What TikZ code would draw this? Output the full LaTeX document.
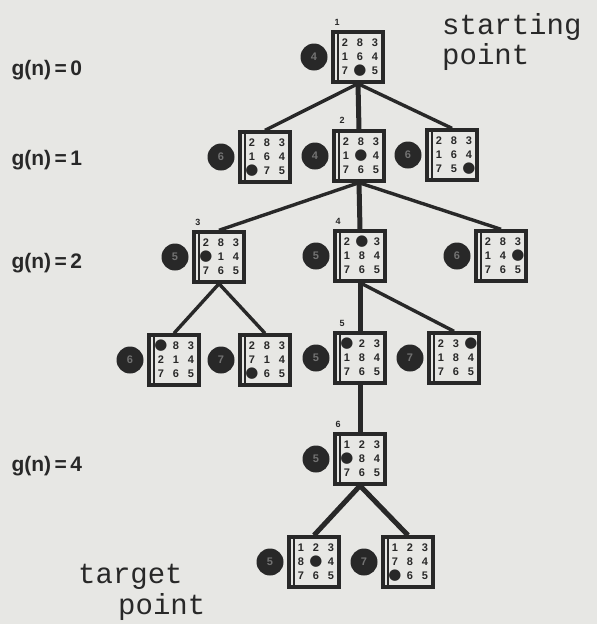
\documentclass[tikz,border=0pt]{standalone}
\usepackage{fontspec}
\setmainfont{Liberation Sans}
\newfontfamily\dv{DejaVu Sans}
\newfontfamily\tw{Liberation Mono}
\definecolor{paper}{RGB}{231,231,228}
\definecolor{ink}{RGB}{40,40,40}
\newcommand\B{{\dv\fontsize{15pt}{15pt}\selectfont ●}}
\tikzset{
  pbox/.style={draw=ink, line width=3.4pt, minimum width=50pt, minimum height=50pt, inner sep=0pt},
  cell/.style={font=\bfseries\fontsize{11pt}{11pt}\selectfont, text=ink, inner sep=0pt},
  hval/.style={circle, fill=ink, minimum size=27pt, inner sep=0pt, text=black!55, font=\bfseries\fontsize{11pt}{11pt}\selectfont},
  edge/.style={draw=ink, line width=3.4pt},
  main/.style={draw=ink, line width=5pt},
  gl/.style={font=\bfseries\fontsize{21pt}{21pt}\selectfont, text=ink, anchor=west},
  nnum/.style={font=\bfseries\fontsize{9pt}{9pt}\selectfont, text=ink, inner sep=0pt},
  tt/.style={font=\tw\fontsize{29pt}{30pt}\selectfont, text=ink, anchor=west, inner sep=0pt}
}
\newcommand\pz[6]{% name, position, row1, row2, row3, f value
  \node[pbox] (#1) at (#2) {};
  \draw[ink, line width=1.8pt] ([xshift=6.5pt,yshift=-2pt]#1.north west) -- ([xshift=6.5pt,yshift=2pt]#1.south west);
  \foreach \t [count=\i] in {#3} \node[cell] at ([shift={(\i*15-28,-14)}]#1.center) {\t};
  \foreach \t [count=\i] in {#4} \node[cell] at ([shift={(\i*15-28,0)}]#1.center) {\t};
  \foreach \t [count=\i] in {#5} \node[cell] at ([shift={(\i*15-28,14)}]#1.center) {\t};
  \node[hval] (#1h) at ([xshift=-44pt]#1.center) {#6};
}
\begin{document}
\begin{tikzpicture}[x=1pt,y=-1pt]
\fill[paper] (0,0) rectangle (597,624);
\useasboundingbox (0,0) rectangle (597,624);

% level labels
\node[gl] (g0) at (8,70) {g(n)\,=\,0};
\node[gl] (g1) at (8,160) {g(n)\,=\,1};
\node[gl] (g2) at (8,263) {g(n)\,=\,2};
\node[gl] (g4) at (8,466) {g(n)\,=\,4};

% texts
\node[tt] (sp1) at (442,27) {starting};
\node[tt] (sp2) at (442,57) {point};
\node[tt] (tp1) at (78,577) {target};
\node[tt] (tp2) at (118,607) {point};

% puzzles
\pz{n1}{358,57}{2,8,3}{1,6,4}{7,\B,5}{4}
\pz{a1}{265,157}{2,8,3}{1,6,4}{\B,7,5}{6}
\pz{n2}{359,156}{2,8,3}{1,\B,4}{7,6,5}{4}
\pz{c1}{452,155}{2,8,3}{1,6,4}{7,5,\B}{6}
\pz{n3}{219,257}{2,8,3}{\B,1,4}{7,6,5}{5}
\pz{n4}{360,256}{2,\B,3}{1,8,4}{7,6,5}{5}
\pz{c2}{501,256}{2,8,3}{1,4,\B}{7,6,5}{6}
\pz{a3}{174,360}{\B,8,3}{2,1,4}{7,6,5}{6}
\pz{b3}{265,360}{2,8,3}{7,1,4}{\B,6,5}{7}
\pz{n5}{360,358}{\B,2,3}{1,8,4}{7,6,5}{5}
\pz{d3}{454,358}{2,3,\B}{1,8,4}{7,6,5}{7}
\pz{n6}{360,459}{1,2,3}{\B,8,4}{7,6,5}{5}
\pz{gl}{314,562}{1,2,3}{8,\B,4}{7,6,5}{5}
\pz{b5}{408,562}{1,2,3}{7,8,4}{\B,6,5}{7}

% node numbers
\node[nnum] (k1) at (337,22) {1};
\node[nnum] (k2) at (342,120) {2};
\node[nnum] (k3) at (198,222) {3};
\node[nnum] (k4) at (338,221) {4};
\node[nnum] (k5) at (342,323) {5};
\node[nnum] (k6) at (338,424) {6};

% connectors
\draw[edge] (n1.south) -- (a1.north);
\draw[main] (n1.south) -- (n2.north);
\draw[edge] (n1.south) -- (c1.north);
\draw[edge] (n2.south) -- (n3.north);
\draw[main] (n2.south) -- (n4.north);
\draw[edge] (n2.south) -- (c2.north);
\draw[edge] (n3.south) -- (a3.north);
\draw[edge] (n3.south) -- (b3.north);
\draw[main] (n4.south) -- (n5.north);
\draw[edge] (n4.south) -- (d3.north);
\draw[main] (n5.south) -- (n6.north);
\draw[main] (n6.south) -- (gl.north);
\draw[main] (n6.south) -- (b5.north);
\end{tikzpicture}
\end{document}
